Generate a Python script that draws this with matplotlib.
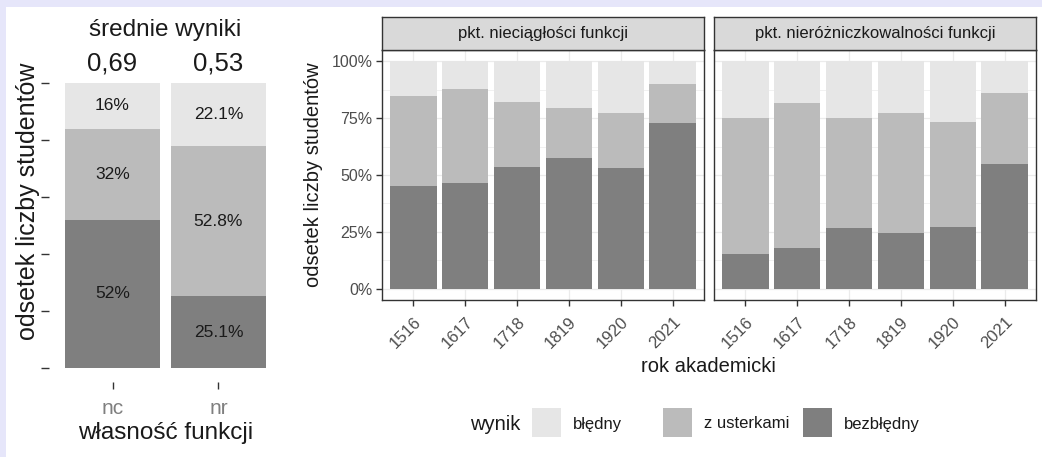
import matplotlib
matplotlib.use("Agg")
import matplotlib.pyplot as plt
import numpy as np
from matplotlib.patches import Rectangle

# ---------------- data ----------------
properties = ["nc", "nr"]
mean_scores = [0.69, 0.53]
sum_bezbledny = [52, 25.1]
sum_usterki = [32, 52.8]
sum_bledny = [16, 22.1]

years = ["1516", "1617", "1718", "1819", "1920", "2021"]
facets = ["pkt. nieciągłości funkcji", "pkt. nieróżniczkowalności funkcji"]
nc_bezbledny = [45.0, 46.7, 53.7, 57.3, 53.0, 72.7]
nc_usterki = [39.6, 41.0, 28.3, 22.4, 24.5, 17.3]
nr_bezbledny = [15.4, 18.1, 26.9, 24.7, 27.3, 55.0]
nr_usterki = [59.9, 63.4, 48.4, 52.8, 46.2, 30.9]

categories = ["błędny", "z usterkami", "bezbłędny"]
colors = {"błędny": "#E6E6E6", "z usterkami": "#BBBBBB", "bezbłędny": "#7F7F7F"}

# ---------------- figure ----------------
W, H = 1042, 457
plt.rcParams["font.family"] = ["Liberation Sans", "DejaVu Sans"]
fig = plt.figure(figsize=(W / 100, H / 100), dpi=100)
fig.patch.set_facecolor("white")


def px_box(x0, y0, x1, y1):
    return [x0 / W, 1 - y1 / H, (x1 - x0) / W, (y1 - y0) / H]


ov = fig.add_axes([0, 0, 1, 1], zorder=-5)
ov.set_xlim(0, W)
ov.set_ylim(H, 0)
ov.axis("off")
ov.add_patch(Rectangle((0, 0), W, 7, color="#E6E6FA", lw=0))
ov.add_patch(Rectangle((0, 0), 6, H, color="#E6E6FA", lw=0))

dark = "#1A1A1A"
axis_grey = "#4D4D4D"
border = "#333333"

# ---------------- left summary chart ----------------
ax0 = fig.add_axes(px_box(49, 69, 282, 382))
x0 = np.arange(len(properties))
b1 = np.array(sum_bezbledny) / 100
b2 = np.array(sum_usterki) / 100
b3 = np.array(sum_bledny) / 100
ax0.bar(x0, b1, width=0.9, color=colors["bezbłędny"], lw=0)
ax0.bar(x0, b2, bottom=b1, width=0.9, color=colors["z usterkami"], lw=0)
ax0.bar(x0, b3, bottom=b1 + b2, width=0.9, color=colors["błędny"], lw=0)
for i in range(len(properties)):
    bottoms = [0, b1[i], b1[i] + b2[i]]
    vals = [sum_bezbledny[i], sum_usterki[i], sum_bledny[i]]
    for bt, v in zip(bottoms, vals):
        ax0.text(x0[i], bt + v / 200, f"{v:g}%", ha="center", va="center",
                 fontsize=12.5, color=dark)
ax0.set_xlim(-0.6, 1.6)
ax0.set_ylim(-0.05, 1.05)
ax0.set_yticks(np.linspace(0, 1, 6))
ax0.set_yticklabels([""] * 6)
ax0.set_xticks(x0)
ax0.set_xticklabels(properties, fontsize=15, color="#7F7F7F")
for s in ax0.spines.values():
    s.set_visible(False)
ax0.set_facecolor("none")
ax0.tick_params(axis="y", length=6, width=1, color=border, pad=0)
ax0.tick_params(axis="x", length=5, width=1, color=border, pad=7)
ov.text(28, 201, "odsetek liczby studentów", rotation=90, ha="center", va="center",
        fontsize=18, color=dark)
ax0.set_xlabel("własność funkcji", fontsize=17.5, color=dark, labelpad=3)
ov.text(165, 30, "średnie wyniki", ha="center", va="center", fontsize=17.5, color=dark)
for i, m in enumerate(mean_scores):
    xpix = 49 + (x0[i] + 0.6) / 2.2 * (282 - 49)
    ov.text(xpix, 63, f"{m:.2f}".replace(".", ","), ha="center", va="center",
            fontsize=18.5, color=dark)

# ---------------- right facet chart ----------------
panels = [(382, 704), (714, 1036)]
facet_data = [(nc_bezbledny, nc_usterki), (nr_bezbledny, nr_usterki)]
xs = np.arange(len(years))
for k, ((px0, px1), (bez, ust)) in enumerate(zip(panels, facet_data)):
    ax = fig.add_axes(px_box(px0, 50, px1, 300))
    bez = np.array(bez) / 100
    ust = np.array(ust) / 100
    bl = 1 - bez - ust
    # grid
    for y in [0.125, 0.375, 0.625, 0.875]:
        ax.axhline(y, color="#EBEBEB", lw=0.5, zorder=0)
    for y in [0, 0.25, 0.5, 0.75, 1.0]:
        ax.axhline(y, color="#EBEBEB", lw=0.9, zorder=0)
    for x in xs:
        ax.axvline(x, color="#EBEBEB", lw=0.9, zorder=0)
    ax.bar(xs, bez, width=0.9, color=colors["bezbłędny"], lw=0, zorder=2)
    ax.bar(xs, ust, bottom=bez, width=0.9, color=colors["z usterkami"], lw=0, zorder=2)
    ax.bar(xs, bl, bottom=bez + ust, width=0.9, color=colors["błędny"], lw=0, zorder=2)
    ax.set_xlim(-0.6, len(years) - 0.4)
    ax.set_ylim(-0.05, 1.05)
    ax.set_xticks(xs)
    ax.set_xticklabels(years, rotation=45, ha="right", va="top",
                       rotation_mode="anchor", fontsize=12, color=axis_grey)
    ax.set_yticks([0, 0.25, 0.5, 0.75, 1.0])
    if k == 0:
        ax.set_yticklabels(["0%", "25%", "50%", "75%", "100%"], fontsize=11.5,
                           color=axis_grey)
        ax.tick_params(axis="y", length=4, width=1, color=border, pad=3)
        ax.set_ylabel("odsetek liczby studentów", fontsize=14.5, color=dark, labelpad=6)
    else:
        ax.tick_params(axis="y", length=0, labelleft=False)
    ax.tick_params(axis="x", length=4, width=1, color=border, pad=6)
    for s in ax.spines.values():
        s.set_color(border)
        s.set_linewidth(1.0)
    # strip
    st = fig.add_axes(px_box(px0, 17, px1, 50))
    st.set_facecolor("#D9D9D9")
    st.set_xticks([])
    st.set_yticks([])
    for s in st.spines.values():
        s.set_color(border)
        s.set_linewidth(1.0)
    st.text(0.5, 0.5, facets[k], ha="center", va="center", fontsize=12,
            color=dark, transform=st.transAxes)

ov.text(708, 366, "rok akademicki", ha="center", va="center", fontsize=14.5, color=dark)

# ---------------- legend ----------------
ov.text(470, 425, "wynik", ha="left", va="center", fontsize=14.5, color=dark)
key_x = [532, 663, 803]
for kx, cat in zip(key_x, categories):
    ov.add_patch(Rectangle((kx, 408), 29, 29, facecolor=colors[cat], lw=0))
    ov.text(kx + 41, 424, cat, ha="left", va="center", fontsize=12, color=dark)

fig.savefig("out.png", dpi=100)
